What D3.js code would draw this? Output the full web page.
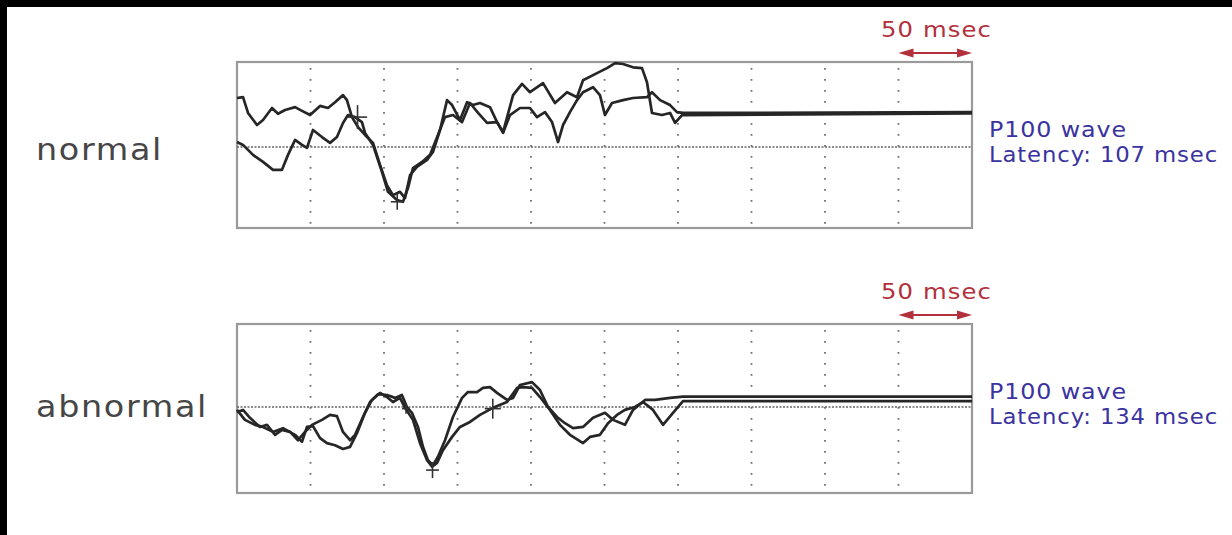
<!DOCTYPE html>
<html>
<head>
<meta charset="utf-8">
<script src="https://cdn.jsdelivr.net/npm/d3@7"></script>
<style>
  html, body { margin: 0; padding: 0; background: #fff; }
  svg { display: block; }
</style>
</head>
<body>
<svg id="chart" width="1232" height="535"></svg>
<script>
// time axis: 10 divisions of 50 msec
const timeTicks = [50, 100, 150, 200, 250, 300, 350, 400, 450];

// normal recording, two runs (msec, amplitude)
const normalT1 = [0, 4.1, 7.5, 13.6, 17.7, 23.8, 27.9, 32.7, 39.5, 44.2, 49.7, 56.5, 61.9, 66.7, 72.1, 74.8, 78.2, 82.3, 87.1, 92.5, 97.3, 102.0, 106.1, 110.9, 114.3, 117.7, 122.4, 129.3, 133.3, 138.1, 142.9, 146.3, 151.7, 156.5, 160.5, 165.3, 172.1, 176.9, 181.0, 185.7, 192.5, 199.3, 204.1, 209.5, 214.3, 218.4, 221.8, 226.5, 231.3, 235.4, 242.2, 246.9, 250.3, 255.1, 262.6, 269.4, 278.9, 282.3, 287.8, 294.6, 299.3, 303.4, 500];
const normalA1 = [5.9, 6.0, 4.1, 2.65, 3.25, 4.7, 4.0, 4.45, 4.8, 4.35, 3.85, 4.95, 4.7, 5.4, 6.25, 5.65, 3.6, 2.4, 1.45, 0.5, -2.15, -4.6, -5.8, -5.4, -6.15, -3.4, -2.4, -1.55, -0.6, 2.05, 5.65, 5.05, 3.25, 5.4, 5.05, 5.3, 4.8, 3.0, 1.7, 3.85, 4.7, 4.7, 3.6, 4.2, 3.0, 0.6, 2.65, 4.2, 5.65, 6.6, 7.2, 6.25, 3.85, 5.3, 5.65, 5.9, 6.0, 6.6, 5.65, 5.05, 4.2, 4.1, 4.2];
const normalT2 = [0, 4.1, 10.9, 17.7, 24.5, 30.6, 34.7, 39.5, 44.2, 47.6, 51.7, 57.8, 63.3, 68.0, 72.1, 75.5, 80.3, 85.0, 87.1, 92.5, 98.6, 102.7, 108.8, 112.9, 116.3, 119.7, 125.9, 131.3, 136.7, 141.5, 146.9, 153.1, 158.5, 164.0, 170.1, 176.9, 181.0, 187.8, 193.9, 199.3, 208.2, 216.3, 224.5, 231.3, 235.4, 244.9, 251.7, 257.2, 262.6, 269.4, 275.5, 278.9, 282.3, 289.1, 294.6, 298.0, 302.7, 500];
const normalA2 = [0.6, 0.25, -0.95, -1.8, -2.75, -2.75, -0.95, 0.85, 0.25, -0.1, 2.05, 1.2, 0.5, 1.2, 2.9, 3.85, 3.6, 3.0, 1.7, 0.25, -3.0, -5.4, -6.4, -6.6, -4.95, -2.55, -1.8, -0.95, 1.45, 3.6, 3.85, 3.0, 5.3, 4.1, 2.9, 3.0, 1.8, 6.25, 7.6, 6.6, 7.7, 5.3, 6.6, 6.0, 8.05, 8.9, 9.5, 10.1, 10.0, 9.6, 9.5, 7.8, 4.1, 3.85, 4.1, 2.9, 3.85, 4.05];

// abnormal recording, two runs
const abnormalT1 = [0, 4.1, 8.8, 15.6, 20.4, 25.9, 30.6, 36.1, 41.5, 46.3, 51.0, 57.8, 63.3, 68.0, 72.1, 76.9, 80.3, 85.7, 90.5, 95.9, 102.0, 107.5, 112.2, 115.6, 119.0, 123.1, 126.5, 129.9, 133.3, 136.7, 141.5, 146.9, 153.1, 157.1, 163.3, 167.3, 172.1, 176.9, 183.7, 187.8, 192.5, 200.7, 206.1, 211.6, 217.7, 223.1, 228.6, 235.4, 242.2, 250.3, 255.8, 263.9, 269.4, 277.6, 284.4, 294.6, 303.4, 500];
const abnormalA1 = [-0.6, -0.35, -1.3, -2.4, -2.15, -3.35, -2.75, -3.0, -4.0, -3.0, -2.15, -1.55, -0.95, -1.1, -3.0, -4.0, -3.35, -1.2, 0.6, 1.55, 1.45, 1.1, 1.45, 0, -0.7, -2.4, -4.8, -6.4, -7.0, -6.0, -4.0, -1.2, 1.1, 1.8, 1.8, 2.3, 2.4, 1.7, 0.85, 1.1, 2.65, 3.0, 2.05, 0, -1.2, -1.95, -2.55, -2.4, -1.3, -0.7, -1.55, -2.15, -0.35, 0.85, 0.85, 1.1, 1.25, 1.25];
const abnormalT2 = [0, 5.4, 12.2, 17.7, 24.5, 31.3, 39.5, 44.2, 47.6, 51.7, 56.5, 61.2, 66.7, 72.1, 76.9, 81.6, 87.1, 91.8, 97.3, 102.0, 106.1, 110.9, 114.3, 119.7, 124.5, 129.3, 132.7, 136.1, 140.1, 146.3, 151.7, 158.5, 165.3, 174.1, 183.7, 190.5, 194.6, 200.7, 206.1, 212.9, 219.7, 226.5, 235.4, 240.1, 246.9, 252.4, 258.5, 263.9, 270.7, 276.2, 283.0, 289.8, 296.6, 303.4, 500];
const abnormalA2 = [-0.35, -1.55, -2.15, -2.4, -3.0, -2.55, -3.35, -4.2, -2.4, -2.3, -3.75, -4.35, -4.6, -5.05, -4.8, -3.15, -0.7, 0.85, 1.7, 1.2, 0.6, 1.1, -0.1, -1.55, -4.35, -6.4, -7.2, -6.75, -5.2, -3.6, -2.4, -1.8, -0.95, -0.1, 0.6, 2.3, 2.4, 2.3, 1.2, -0.35, -2.15, -3.35, -4.35, -3.6, -3.35, -1.95, -0.95, -0.35, 0, 0.6, -0.35, -2.15, -0.7, 0.7, 0.7];

// cursor marks (msec, amplitude, size)
const normalMarksT = [82, 109];
const normalMarksA = [3.6, -6.6];
const normalMarksS = [12, 8];
const abnormalMarksT = [115, 133, 174];
const abnormalMarksA = [-0.2, -7.6, -0.2];
const abnormalMarksS = [5, 8, 10];

const labels = ["normal", "abnormal"];
const latencies = [107, 134];

const zip = (ts, as) => ts.map((t, i) => ({ t: t, a: as[i] }));

const panels = [
    {
        label: labels[0], latency: latencies[0],
        top: 62, bottom: 228, yDomain: [-9.76, 10.24],
        runs: [zip(normalT1, normalA1), zip(normalT2, normalA2)],
        marks: normalMarksT.map((t, i) => ({ t: t, a: normalMarksA[i], s: normalMarksS[i] }))
    },
    {
        label: labels[1], latency: latencies[1],
        top: 324, bottom: 493, yDomain: [-10.36, 10.0],
        runs: [zip(abnormalT1, abnormalA1), zip(abnormalT2, abnormalA2)],
        marks: abnormalMarksT.map((t, i) => ({ t: t, a: abnormalMarksA[i], s: abnormalMarksS[i] }))
    }
];

const svg = d3.select("#chart");

// black frame at top and left of the picture
svg.append("rect").attr("x", 0).attr("y", 0).attr("width", 1232).attr("height", 7).attr("fill", "#000");
svg.append("rect").attr("x", 0).attr("y", 0).attr("width", 7).attr("height", 535).attr("fill", "#000");

const x = d3.scaleLinear().domain([0, 500]).range([237, 972]);

const addText = (g, txt, px, py, len, size, spacing, color) => {
    g.append("text")
        .attr("x", px).attr("y", py)
        .attr("textLength", len)
        .attr("lengthAdjust", "spacingAndGlyphs")
        .style("font-family", "'DejaVu Sans', Verdana, sans-serif")
        .style("font-size", size + "px")
        .style("letter-spacing", spacing + "px")
        .style("fill", color)
        .text(txt);
};

panels.forEach((p, pi) => {
    const y = d3.scaleLinear().domain(p.yDomain).range([p.bottom, p.top]);
    const g = svg.append("g");

    // frame
    g.append("rect")
        .attr("x", x(0)).attr("y", p.top)
        .attr("width", x(500) - x(0)).attr("height", p.bottom - p.top)
        .attr("fill", "#fff")
        .attr("stroke", "#9a9a9a")
        .attr("stroke-width", 2.2);

    // dotted vertical grid
    g.selectAll(".vgrid")
        .data(timeTicks)
        .enter()
        .append("line")
        .attr("x1", d => x(d)).attr("x2", d => x(d))
        .attr("y1", p.top + 6).attr("y2", p.bottom - 4)
        .attr("stroke", "#707070")
        .attr("stroke-width", 1.8)
        .attr("stroke-dasharray", "1.8,9.2");

    // zero line
    g.append("line")
        .attr("x1", x(0)).attr("x2", x(500))
        .attr("y1", y(0)).attr("y2", y(0))
        .attr("stroke", "#666")
        .attr("stroke-width", 1.4)
        .attr("stroke-dasharray", "2,1.5");

    // traces
    const line = d3.line()
        .x(d => x(d.t))
        .y(d => y(d.a))
        .curve(d3.curveLinear);
    g.selectAll(".run")
        .data(p.runs)
        .enter()
        .append("path")
        .attr("d", d => line(d))
        .attr("fill", "none")
        .attr("stroke", "#262626")
        .attr("stroke-width", 2.7)
        .attr("stroke-linejoin", "round");

    // cursor crosses
    p.marks.forEach(m => {
        g.append("line")
            .attr("x1", x(m.t)).attr("x2", x(m.t))
            .attr("y1", y(m.a) - m.s).attr("y2", y(m.a) + m.s)
            .attr("stroke", "#333").attr("stroke-width", 1.6);
        g.append("line")
            .attr("x1", x(m.t) - m.s * 0.8).attr("x2", x(m.t) + m.s * 0.8)
            .attr("y1", y(m.a)).attr("y2", y(m.a))
            .attr("stroke", "#333").attr("stroke-width", 1.6);
    });

    // left label
    addText(g, p.label, 36, pi === 0 ? 160 : 417, pi === 0 ? 127 : 172, 30, 1.5, "#464646");

    // 50 msec scale bar
    const arrowY = p.top - 9;
    addText(g, "50 msec", 881, p.top - 25, 111, 22, 1, "#b3303d");
    g.append("line")
        .attr("x1", x(450) + 6).attr("x2", x(500) - 6)
        .attr("y1", arrowY).attr("y2", arrowY)
        .attr("stroke", "#b3303d").attr("stroke-width", 2.2);
    [[x(450), 1], [x(500), -1]].forEach(([px, dir]) => {
        g.append("path")
            .attr("d", `M${px},${arrowY} L${px + dir * 15},${arrowY - 4.5} L${px + dir * 15},${arrowY + 4.5} Z`)
            .attr("fill", "#b3303d");
    });

    // P100 annotation
    const noteY = p.top + 75;
    addText(g, "P100 wave", 989, noteY, 138, 21, 0.8, "#3a33a0");
    addText(g, `Latency: ${p.latency} msec`, 989, noteY + 25, 229, 21, 0.8, "#3a33a0");
});
</script>
</body>
</html>
